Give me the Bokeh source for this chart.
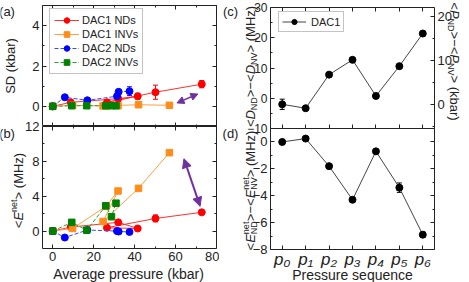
import math
from bokeh.plotting import figure
from bokeh.layouts import row, column
from bokeh.models import (Range1d, LinearAxis, FixedTicker, Label, Legend, LegendItem,
                          Whisker, ColumnDataSource, Arrow, NormalHead, TeeHead)
from bokeh.embed import file_html
from bokeh.resources import INLINE

FONT = "Liberation Sans"
INK = "#222222"
PURPLE = "#7030A0"

# ---------------- data ----------------
# DAC1 NDs, in pressure-sequence order p0..p6
dac1_nd_p = [0, 8.8, 32.0, 41.5, 26.5, 50.2, 72.8]
dac1_nd_sd = [0, 0.20, 0.38, 0.50, 0.20, 0.70, 1.10]
dac1_nd_sd_err = [0, 0.03, 0.06, 0.15, 0.05, 0.35, 0.18]
dac1_nd_e = [0, 0.46, 1.00, 0.30, 0.38, 1.45, 2.15]
dac1_nd_e_err = [0, 0.05, 0.15, 0.08, 0.08, 0.40, 0.15]

# DAC1 INVs
dac1_nv_p = [0, 9.7, 26.1, 31.9, 24.6, 41.9, 57.0]
dac1_nv_sd = [0, 0.05, 0.02, 0.03, 0.02, 0.08, 0.05]
dac1_nv_e = [0, 0.30, 2.85, 4.60, 1.10, 4.90, 9.00]

# DAC2 NDs
dac2_nd_p = [0, 5.9, 16.9, 31.4, 32.2, 37.5]
dac2_nd_sd = [0, 0.45, 0.30, 0.50, 0.72, 0.75]
dac2_nd_sd_err = [0, 0.04, 0.04, 0.12, 0.10, 0.22]
dac2_nd_e = [0, -0.74, 0.12, 0.00, -0.05, -0.10]

# DAC2 INVs
dac2_nv_p = [0, 9.3, 16.6, 25.9, 28.7, 30.9]
dac2_nv_sd = [0, 0.03, 0.03, 0.03, 0.03, 0.03]
dac2_nv_e = [0, 1.00, 0.10, 2.90, 1.65, 3.20]

# (c), (d): DAC1 differences along the pressure sequence
seq_index = [0, 1, 2, 3, 4, 5, 6]
seq_labels = ["p\u2080", "p\u2081", "p\u2082", "p\u2083", "p\u2084", "p\u2085", "p\u2086"]
d_diff = [-2.0, -3.3, 7.8, 12.7, 0.75, 10.6, 21.4]
d_diff_err = [1.7, 0.3, 0.3, 0.3, 0.3, 0.3, 0.3]
e_diff = [0.0, 0.25, -1.8, -4.3, -0.7, -3.4, -6.9]
e_diff_err = [0.05, 0.05, 0.1, 0.1, 0.15, 0.35, 0.2]

# double arrows (annotation positions, data units)
arrow_a = [60.7, 0.17, 70.9, 0.61]
arrow_b = [64.1, 8.3, 72.0, 2.84]

# ---------------- helpers ----------------
def style_axis(ax, ticks, minor, show=True, tin=4, tout=0, size="13px", standoff=3):
    ax.ticker = FixedTicker(ticks=ticks, minor_ticks=minor)
    ax.major_tick_in = tin
    ax.major_tick_out = tout
    ax.minor_tick_in = 2 if tin else 0
    ax.minor_tick_out = 2 if tout else 0
    ax.axis_line_color = None
    ax.major_tick_line_color = INK
    ax.minor_tick_line_color = INK
    ax.major_label_text_font = FONT
    ax.major_label_text_color = INK
    if show:
        ax.major_label_text_font_size = size
        ax.major_label_standoff = standoff
    else:
        ax.major_label_text_font_size = "0px"
        ax.major_label_text_alpha = 0
        ax.major_label_standoff = 0


def make_fig(w, h, xr, yr, bl, br, bt, bb, xloc):
    f = figure(width=w, height=h, x_range=xr, y_range=yr, x_axis_location=xloc,
               y_axis_location="left", min_border_left=bl, min_border_right=br,
               min_border_top=bt, min_border_bottom=bb, toolbar_location=None,
               output_backend="svg")
    f.grid.visible = False
    f.outline_line_color = INK
    f.outline_line_width = 1
    f.outline_line_alpha = 1
    f.background_fill_color = "white"
    f.border_fill_color = None
    return f


def errbars(f, x, y, err, color, head=5):
    xs, lo, hi = [], [], []
    for xi, yi, ei in zip(x, y, err):
        if ei > 0.02:
            xs.append(xi); lo.append(yi - ei); hi.append(yi + ei)
    src = ColumnDataSource(dict(base=xs, lower=lo, upper=hi))
    f.add_layout(Whisker(source=src, base="base", lower="lower", upper="upper",
                         dimension="height", line_color=color, line_width=1,
                         upper_head=TeeHead(size=head, line_color=color),
                         lower_head=TeeHead(size=head, line_color=color)))


def series(f, x, y, mcolor, lcolor, marker, dash="solid", size=7):
    l = f.line(x, y, line_color=lcolor, line_width=1, line_dash=dash)
    s = f.scatter(x, y, marker=marker, size=size, fill_color=mcolor, line_color=mcolor)
    return l, s


# ---------------- text layer (page-pixel coordinates) ----------------
tf = figure(width=469, height=282, x_range=Range1d(0, 469), y_range=Range1d(282, 0),
            x_axis_location=None, y_axis_location=None, min_border=0,
            toolbar_location=None, output_backend="svg")
tf.outline_line_color = None
tf.grid.visible = False
tf.background_fill_color = "white"
tf.border_fill_color = "white"

ARIAL = {'<': 584, '>': 584, '\u2212': 584, ' ': 278, '(': 333, ')': 333, 'M': 833,
         'H': 722, 'z': 500, 'D': 722, 'N': 722, 'V': 667, 'E': 667, 'P': 667, 'n': 556,
         'e': 556, 't': 278, 'k': 500, 'b': 556, 'a': 556, 'r': 333}


def tw(s, size):
    return sum(ARIAL.get(c, 556) for c in s) * size / 1000.0


def page_text(text, x, y, size=13, style="normal", align="center", baseline="alphabetic", angle=0.0):
    tf.add_layout(Label(x=x, y=y, text=text, angle=angle, text_align=align,
                        text_baseline=baseline, text_font=FONT, text_font_size=f"{size}px",
                        text_font_style=style, text_color=INK))


def rotated_label(groups, x_base, y_center, ccw=True):
    adv = [max(tw(t, s) for t, s, _, _ in g) for g in groups]
    total = sum(adv)
    y = y_center + total / 2 if ccw else y_center - total / 2
    for g, a in zip(groups, adv):
        for t, s, st, dx in g:
            page_text(t, x_base + dx, y, size=s, style=st, align="left",
                      angle=(math.pi / 2 if ccw else -math.pi / 2))
        y = y - a if ccw else y + a


RED, RED_L = "#FF0000", "#FF3030"
ORANGE, ORANGE_L = "#FF8C1A", "#FFA040"
BLUE, BLUE_L = "#0000FF", "#3050FF"
GREEN, GREEN_L = "#008000", "#30A030"

xr_left = Range1d(-5, 80)

# ---------------- panel (a) ----------------
fa = make_fig(219, 126, xr_left, Range1d(-1, 5), 40, 3, 5, 0, None)
style_axis(fa.yaxis[0], [0, 2, 4], [-1, 1, 3, 5])
fa.yaxis[0].axis_label = "SD (kbar)"
fa.yaxis[0].axis_label_text_font = FONT
fa.yaxis[0].axis_label_text_font_style = "normal"
fa.yaxis[0].axis_label_text_font_size = "13px"
fa.yaxis[0].axis_label_text_color = INK
fa.yaxis[0].axis_label_standoff = 11
ax = LinearAxis(); style_axis(ax, [0, 20, 40, 60, 80], [10, 30, 50, 70], show=False)
fa.add_layout(ax, "above")
ax = LinearAxis(); style_axis(ax, [0, 2, 4], [-1, 1, 3, 5], show=False)
fa.add_layout(ax, "right")

errbars(fa, dac1_nd_p, dac1_nd_sd, dac1_nd_sd_err, RED)
errbars(fa, dac2_nd_p, dac2_nd_sd, dac2_nd_sd_err, BLUE)
l1, s1 = series(fa, dac1_nd_p, dac1_nd_sd, RED, RED_L, "circle")
l2, s2 = series(fa, dac1_nv_p, dac1_nv_sd, ORANGE, ORANGE_L, "square", size=6.5)
l3, s3 = series(fa, dac2_nd_p, dac2_nd_sd, BLUE, BLUE_L, "circle", dash="4 2")
l4, s4 = series(fa, dac2_nv_p, dac2_nv_sd, GREEN, GREEN_L, "square", dash="4 2", size=6.5)
fa.add_layout(Arrow(x_start=arrow_a[0], y_start=arrow_a[1], x_end=arrow_a[2], y_end=arrow_a[3],
                    line_color=PURPLE, line_width=1.5,
                    start=NormalHead(size=7, fill_color=PURPLE, line_color=PURPLE),
                    end=NormalHead(size=7, fill_color=PURPLE, line_color=PURPLE)))
leg_a = Legend(items=[LegendItem(label="DAC1 NDs", renderers=[l1, s1]),
                      LegendItem(label="DAC1 INVs", renderers=[l2, s2]),
                      LegendItem(label="DAC2 NDs", renderers=[l3, s3]),
                      LegendItem(label="DAC2 INVs", renderers=[l4, s4])],
               location=(7, 52), border_line_color="#888888", border_line_width=1,
               background_fill_color="white", background_fill_alpha=1, padding=4, spacing=0,
               margin=0, label_height=14, glyph_height=14, glyph_width=25, label_standoff=3,
               label_text_font=FONT, label_text_font_size="11px", label_text_color=INK)
fa.add_layout(leg_a)

# ---------------- panel (b) ----------------
fb = make_fig(219, 164, xr_left, Range1d(-2, 12), 40, 3, 8, 34, "below")
style_axis(fb.yaxis[0], [0, 4, 8, 12], [2, 6, 10])
style_axis(fb.xaxis[0], [0, 20, 40, 60, 80], [10, 30, 50, 70], standoff=3)
ax = LinearAxis(); style_axis(ax, [0, 20, 40, 60, 80], [10, 30, 50, 70], show=False, tin=4, tout=4)
fb.add_layout(ax, "above")
ax = LinearAxis(); style_axis(ax, [0, 4, 8, 12], [2, 6, 10], show=False)
fb.add_layout(ax, "right")

errbars(fb, dac1_nd_p, dac1_nd_e, dac1_nd_e_err, RED)
series(fb, dac1_nd_p, dac1_nd_e, RED, RED_L, "circle")
series(fb, dac1_nv_p, dac1_nv_e, ORANGE, ORANGE_L, "square", size=6.5)
series(fb, dac2_nd_p, dac2_nd_e, BLUE, BLUE_L, "circle", dash="4 2")
series(fb, dac2_nv_p, dac2_nv_e, GREEN, GREEN_L, "square", dash="4 2", size=6.5)
fb.add_layout(Arrow(x_start=arrow_b[0], y_start=arrow_b[1], x_end=arrow_b[2], y_end=arrow_b[3],
                    line_color=PURPLE, line_width=2,
                    start=NormalHead(size=9, fill_color=PURPLE, line_color=PURPLE),
                    end=NormalHead(size=9, fill_color=PURPLE, line_color=PURPLE)))
fb.margin = (-8, 0, 0, 0)

# ---------------- panel (c) ----------------
xr_right = Range1d(-0.5, 6.5)
fc = make_fig(250, 136, xr_right, Range1d(-10, 30), 51, 35, 7, 8, None)
fc.extra_y_ranges = {"kbar": Range1d(-5.45, 22.05)}
style_axis(fc.yaxis[0], [-10, 0, 10, 20, 30], [-5, 5, 15, 25], size="12px")
ax = LinearAxis(y_range_name="kbar"); style_axis(ax, [0, 10, 20], [-5, 5, 15])
fc.add_layout(ax, "right")
ax = LinearAxis(); style_axis(ax, seq_index, [], show=False)
fc.add_layout(ax, "above")
errbars(fc, seq_index, d_diff, d_diff_err, "black", head=5)
lc = fc.line(seq_index, d_diff, line_color="#444444", line_width=1)
sc = fc.scatter(seq_index, d_diff, marker="circle", size=7, fill_color="black", line_color="black")
leg_c = Legend(items=[LegendItem(label="DAC1", renderers=[lc, sc])], location=(8, 96),
               border_line_color="#888888", border_line_width=1, background_fill_color="white",
               background_fill_alpha=1, padding=3, spacing=0, margin=0, label_height=13,
               glyph_height=13, glyph_width=24, label_standoff=5, label_text_font=FONT,
               label_text_font_size="11px", label_text_color=INK)
fc.add_layout(leg_c)

# ---------------- panel (d) ----------------
fd = make_fig(250, 162, xr_right, Range1d(-8, 1), 51, 35, 8, 33, "below")
style_axis(fd.yaxis[0], [-8, -6, -4, -2, 0], [-7, -5, -3, -1, 1])
style_axis(fd.xaxis[0], seq_index, [], size="17px", standoff=0)
fd.xaxis[0].major_label_overrides = {i: t for i, t in zip(seq_index, seq_labels)}
fd.xaxis[0].major_label_text_font_style = "italic"
ax = LinearAxis(); style_axis(ax, seq_index, [], show=False, tin=0, tout=4)
fd.add_layout(ax, "above")
ax = LinearAxis(); style_axis(ax, [-8, -6, -4, -2, 0], [-7, -5, -3, -1, 1], show=False)
fd.add_layout(ax, "right")
errbars(fd, seq_index, e_diff, e_diff_err, "black", head=5)
fd.line(seq_index, e_diff, line_color="#444444", line_width=1)
fd.scatter(seq_index, e_diff, marker="circle", size=7, fill_color="black", line_color="black")
fd.margin = (-16, 0, 0, 0)

# ---------------- texts outside the frames ----------------
page_text("(a)", 6.5, 11, baseline="middle")
page_text("(b)", 6.5, 133, baseline="middle")
page_text("(c)", 230, 11, baseline="middle")
page_text("(d)", 230, 133, baseline="middle")
page_text("Average pressure (kbar)", 128, 273, size=14)
page_text("Pressure sequence", 352, 274.5, size=14)

rotated_label([[("<", 13, "normal", 0)], [("E", 13, "italic", 0)],
               [("net", 9, "normal", -5)], [("> (MHz)", 13, "normal", 0)]], 18, 190)
rotated_label([[("<", 13, "normal", 0)], [("D", 13, "italic", 0)], [("ND", 9, "normal", 3)],
               [(">\u2212<", 13, "normal", 0)], [("D", 13, "italic", 0)],
               [("NV", 9, "normal", 3)], [("> (MHz)", 13, "normal", 0)]], 250, 66)
rotated_label([[("<", 13, "normal", 0)], [("E", 13, "italic", 0)],
               [("net", 9, "normal", -5), ("ND", 9, "normal", 3)],
               [(">\u2212<", 13, "normal", 0)], [("E", 13, "italic", 0)],
               [("net", 9, "normal", -5), ("NV", 9, "normal", 3)],
               [("> (MHz)", 13, "normal", 0)]], 250, 190)
rotated_label([[("<", 13, "normal", 0)], [("P", 13, "italic", 0)], [("ND", 9, "normal", -4)],
               [(">\u2212<", 13, "normal", 0)], [("P", 13, "italic", 0)],
               [("NV", 9, "normal", -4)], [("> (kbar)", 13, "normal", 0)]], 454, 61, ccw=False)

charts = row(column(fa, fb), column(fc, fd))
charts.margin = (-282, 0, 0, 0)
layout = column(tf, charts)

open("out.html", "w").write(file_html(layout, INLINE))
